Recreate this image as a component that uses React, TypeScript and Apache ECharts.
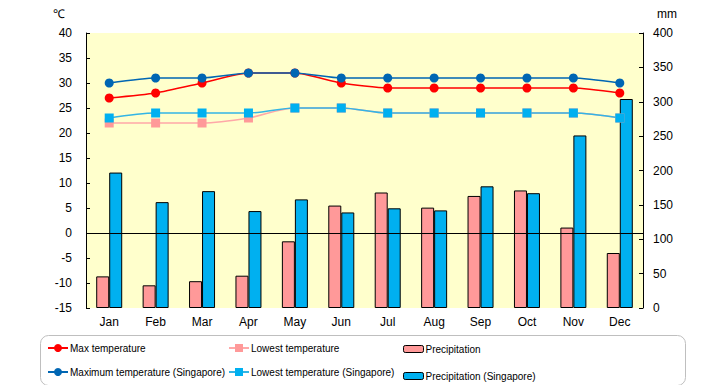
import React, { useEffect, useRef } from "react";
import * as echarts from "echarts";

const months = ["Jan", "Feb", "Mar", "Apr", "May", "Jun", "Jul", "Aug", "Sep", "Oct", "Nov", "Dec"];
const maxTemp = [27, 28, 30, 32, 32, 30, 29, 29, 29, 29, 29, 28];
const lowTemp = [22, 22, 22, 23, 25, 25, 24, 24, 24, 24, 24, 23];
const precip = [46, 33, 39, 47, 97, 149, 168, 146, 163, 171, 117, 80];
const maxTempSg = [30, 31, 31, 32, 32, 31, 31, 31, 31, 31, 31, 30];
const lowTempSg = [23, 24, 24, 24, 25, 25, 24, 24, 24, 24, 24, 23];
const precipSg = [197, 154, 170, 141, 158, 139, 145, 142, 177, 167, 251, 304];

const FONT = "'Liberation Sans', Arial, sans-serif";

export default function App() {
  const ref = useRef<HTMLDivElement>(null);
  useEffect(() => {
    if (!ref.current) return;
    const chart = echarts.init(ref.current, undefined, { renderer: "svg" });
    const txt = { fontFamily: FONT, fontSize: 12, color: "#000" };
    const legendBase = {
      orient: "vertical" as const,
      top: 343,
      height: 40,
      padding: 0,
      itemWidth: 20,
      itemHeight: 10,
      itemGap: 14,
      textStyle: { fontFamily: FONT, fontSize: 10, color: "#000", padding: [0, 0, 0, -3] },
      selectedMode: false,
    };
    chart.setOption({
      animation: false,
      backgroundColor: "#fff",
      grid: { left: 86, right: 77, top: 33, bottom: 77, show: true, backgroundColor: "#FFFFCC", borderWidth: 0 },
      xAxis: {
        type: "category",
        data: months,
        axisLine: { show: false },
        axisTick: { show: false },
        axisLabel: { ...txt, margin: 8 },
      },
      yAxis: [
        {
          type: "value",
          min: -15,
          max: 40,
          interval: 5,
          axisLine: { show: true, lineStyle: { color: "#000" } },
          axisTick: { show: true, inside: true, length: 4, lineStyle: { color: "#000" } },
          axisLabel: { ...txt, margin: 14 },
          splitLine: { show: false },
        },
        {
          type: "value",
          min: 0,
          max: 400,
          interval: 50,
          position: "right",
          axisLine: { show: true, lineStyle: { color: "#000" } },
          axisTick: { show: true, inside: true, length: 4, lineStyle: { color: "#000" } },
          axisLabel: { ...txt, margin: 10 },
          splitLine: { show: false },
        },
      ],
      legend: [
        { ...legendBase, left: 47, data: ["Max temperature", "Maximum temperature (Singapore)"] },
        { ...legendBase, left: 228, data: ["Lowest temperature", "Lowest temperature (Singapore)"] },
        {
          ...legendBase,
          left: 403,
          top: 344,
          itemHeight: 7,
          itemGap: 17,
          itemStyle: { borderWidth: 1, borderColor: "#000" },
          data: ["Precipitation", "Precipitation (Singapore)"],
        },
      ],
      graphic: [
        {
          type: "rect",
          left: 38,
          top: 333,
          shape: { width: 645, height: 50, r: 8 },
          style: { fill: "none", stroke: "#BFBFBF", lineWidth: 1 },
          z: -1,
        },
        { type: "text", left: 53, top: 8, style: { text: "℃", font: `12px ${FONT}`, fill: "#000" } },
        { type: "text", left: 657, top: 8, style: { text: "mm", font: `12px ${FONT}`, fill: "#000" } },
      ],
      series: [
        {
          name: "Precipitation",
          type: "bar",
          yAxisIndex: 1,
          data: precip,
          barWidth: 13,
          barGap: "0%",
          itemStyle: { color: "#FF9999", borderColor: "#000", borderWidth: 1 },
        },
        {
          name: "Precipitation (Singapore)",
          type: "bar",
          yAxisIndex: 1,
          data: precipSg,
          barWidth: 13,
          barGap: "0%",
          itemStyle: { color: "#00B0F0", borderColor: "#000", borderWidth: 1 },
        },
        {
          name: "Lowest temperature",
          type: "line",
          yAxisIndex: 0,
          data: lowTemp,
          smooth: 0.3,
          symbol: "rect",
          symbolSize: 9,
          lineStyle: { color: "#FFA8A8", width: 1.5 },
          itemStyle: { color: "#FF9999" },
        },
        {
          name: "Max temperature",
          type: "line",
          yAxisIndex: 0,
          data: maxTemp,
          smooth: 0.2,
          symbol: "circle",
          symbolSize: 9,
          lineStyle: { color: "#FF0000", width: 1.5 },
          itemStyle: { color: "#FF0000" },
          markLine: {
            silent: true,
            symbol: "none",
            label: { show: false },
            lineStyle: { color: "#000", width: 1, type: "solid" },
            data: [{ yAxis: 0 }],
          },
        },
        {
          name: "Lowest temperature (Singapore)",
          type: "line",
          yAxisIndex: 0,
          data: lowTempSg,
          smooth: 0.3,
          symbol: "rect",
          symbolSize: 9,
          lineStyle: { color: "#33B5E5", width: 1.5 },
          itemStyle: { color: "#00B0F0" },
        },
        {
          name: "Maximum temperature (Singapore)",
          type: "line",
          yAxisIndex: 0,
          data: maxTempSg,
          smooth: 0.2,
          symbol: "circle",
          symbolSize: 9,
          lineStyle: { color: "#0066B3", width: 1.5 },
          itemStyle: { color: "#0066B3" },
        },
      ],
    });
    return () => chart.dispose();
  }, []);
  return <div ref={ref} style={{ width: 720, height: 385, position: "fixed", left: 0, top: 0 }} />;
}
